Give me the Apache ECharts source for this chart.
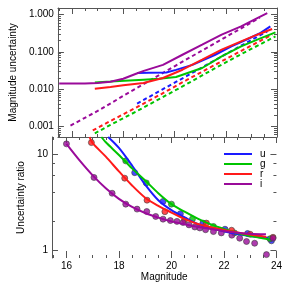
<!DOCTYPE html>
<html><head><meta charset="utf-8">
<script src="https://cdn.jsdelivr.net/npm/echarts@6/dist/echarts.min.js"></script>
<style>html,body{margin:0;padding:0;background:#fff}#c{width:285px;height:292px}</style>
</head><body><div id="c"></div>
<script>
// ---- tick values ----
const magMajorTicks = [16, 18, 20, 22, 24];
const magMinorTicks = [15.5, 16.5, 17, 17.5, 18.5, 19, 19.5, 20.5, 21, 21.5, 22.5, 23, 23.5];
const errMajorTicks = [0.001, 0.01, 0.1, 1];
const errMinorTicks = [0.0006, 0.0007, 0.0008, 0.0009, 0.002, 0.003, 0.004, 0.005, 0.006, 0.007, 0.008, 0.009,
  0.02, 0.03, 0.04, 0.05, 0.06, 0.07, 0.08, 0.09, 0.2, 0.3, 0.4, 0.5, 0.6, 0.7, 0.8, 0.9];
const ratioMajorTicks = [1, 10];
const ratioMinorTicks = [2, 4, 6, 8];
const bands = ['u', 'g', 'r', 'i'];
const bandColors = ['#1a1aff', '#00c400', '#ff1a1a', '#9a0a9a'];

// ---- top panel: total uncertainty (solid) ----
const uTotMag = [18.54, 19.0, 19.68, 20.06, 20.70, 21.59, 22.22, 22.86, 23.36, 23.74];
const uTotErr = [0.027, 0.0275, 0.028, 0.033, 0.045, 0.084, 0.141, 0.222, 0.324, 0.485];
const gTotMag = [16.89, 17.5, 18.79, 19.4, 20.06, 21.08, 21.84, 22.60, 23.23, 23.94];
const gTotErr = [0.0152, 0.016, 0.018, 0.019, 0.0212, 0.037, 0.076, 0.141, 0.214, 0.335];
const rTotMag = [16.89, 17.5, 18.0, 18.79, 19.55, 20.31, 21.08, 21.84, 22.60, 23.23, 23.81];
const rTotErr = [0.0103, 0.0115, 0.0128, 0.0146, 0.020, 0.0333, 0.0618, 0.115, 0.192, 0.29, 0.413];
const iTotMag = [15.5, 16.0, 16.5, 17.0, 17.5, 18.0, 18.5, 18.8, 19.55, 20.31, 21.08, 21.84, 22.6, 23.23, 23.62];
const iTotErr = [0.0142, 0.0142, 0.0143, 0.0146, 0.0158, 0.019, 0.026, 0.031, 0.045, 0.084, 0.156, 0.29, 0.485, 0.81, 1.1];

// ---- top panel: photon-noise uncertainty (dashed) ----
const uPhotMag = [18.54, 19.5, 20.5, 21.5, 22.5, 23.62];
const uPhotErr = [0.0041, 0.0096, 0.023, 0.056, 0.135, 0.356];
const gPhotMag = [16.89, 17.5, 18.5, 19.5, 20.5, 21.5, 22.5, 23.94];
const gPhotErr = [0.00065, 0.0011, 0.0025, 0.0059, 0.014, 0.034, 0.08, 0.261];
const rPhotMag = [16.81, 17.5, 18.5, 19.5, 20.5, 21.5, 22.5, 23.81];
const rPhotErr = [0.00078, 0.0014, 0.0032, 0.0075, 0.018, 0.042, 0.098, 0.29];
const iPhotMag = [15.94, 17.0, 18.0, 19.0, 20.0, 21.0, 22.0, 23.0, 23.33];
const iPhotErr = [0.00105, 0.0026, 0.0066, 0.0165, 0.041, 0.102, 0.25, 0.62, 0.84];

// ---- bottom panel: ratio fits (lines) ----
const uFitMag = [17.59, 18.0, 18.5, 19.0, 19.5, 20.0, 20.5, 21.0, 21.5, 22.0, 22.5, 23.0, 23.7];
const uFitRatio = [15.1, 11.6, 7.6, 4.8, 3.3, 2.6, 2.18, 1.86, 1.68, 1.56, 1.46, 1.39, 1.32];
const gFitMag = [17.33, 17.5, 18.0, 18.5, 19.0, 19.5, 20.0, 20.5, 21.0, 21.5, 22.0, 22.5, 23.0, 23.7];
const gFitRatio = [15.1, 13.3, 9.8, 7.1, 5.3, 3.9, 3.0, 2.5, 2.12, 1.84, 1.65, 1.5, 1.39, 1.29];
const rFitMag = [16.88, 17.0, 17.5, 18.0, 18.5, 19.0, 19.5, 20.0, 20.5, 21.0, 21.5, 22.0, 22.5, 23.0, 23.62];
const rFitRatio = [15.1, 13.0, 9.4, 6.6, 4.7, 3.5, 2.88, 2.45, 2.1, 1.86, 1.72, 1.61, 1.52, 1.44, 1.36];
const iFitMag = [16.0, 16.5, 17.0, 17.5, 18.0, 18.5, 19.0, 19.5, 20.0, 20.5, 21.0, 21.5, 22.0, 22.5, 23.0, 23.6];
const iFitRatio = [12.8, 8.6, 6.0, 4.4, 3.4, 2.8, 2.42, 2.17, 1.98, 1.85, 1.74, 1.65, 1.57, 1.51, 1.47, 1.45];

// ---- bottom panel: measured ratios (dots) ----
const uPtMag = [18.6, 19.68, 20.34, 21.2, 22.04, 22.9, 23.81];
const uPtRatio = [6.4, 3.2, 2.38, 1.9, 1.64, 1.48, 1.24];
const gPtMag = [18.26, 19.04, 20.0, 20.8, 21.6, 22.4, 23.75];
const gPtRatio = [8.5, 5.0, 3.0, 2.1, 1.75, 1.5, 1.3];
const rPtMag = [16.95, 18.22, 19.07, 19.75, 20.5, 21.33, 22.29, 23.0, 23.87];
const rPtRatio = [13.2, 5.6, 3.3, 2.5, 2.05, 1.9, 1.6, 1.45, 1.35];
const iPtMag = [16.0, 17.05, 17.74, 18.26, 18.69, 19.06, 19.40, 19.68, 19.96, 20.21, 20.44, 20.67, 20.89, 21.08,
  21.3, 21.6, 21.9, 22.3, 22.6, 22.86, 23.17, 23.62, 23.87];
const iPtRatio = [12.8, 5.7, 3.9, 3.0, 2.66, 2.51, 2.23, 2.09, 2.02, 1.98, 1.93, 1.82, 1.73, 1.69,
  1.62, 1.55, 1.5, 1.42, 1.32, 1.22, 1.17, 0.89, 1.32];

const zip = (a, b) => a.map((v, k) => [v, b[k]]);
const FONT = 'Liberation Sans';
const AX = '#555';
const xMin = 15.45, xMax = 24;
const errMin = 0.00052, errMax = 1.51;
const ratMin = 0.82, ratMax = 15.1;

function xAx(grid, pos, ticks, len, opts) {
  return Object.assign({
    type: 'value', gridIndex: grid, position: pos, min: xMin, max: xMax,
    splitLine: { show: false },
    axisLine: { show: false, lineStyle: { color: AX, width: 1 } },
    axisTick: { show: true, inside: true, length: len, customValues: ticks, lineStyle: { color: AX } },
    axisLabel: { show: false }
  }, opts || {});
}
function yAx(grid, pos, type, mn, mx, ticks, len, opts) {
  const o = {
    type: type, gridIndex: grid, position: pos, min: mn, max: mx,
    splitLine: { show: false },
    axisLine: { show: false, lineStyle: { color: AX, width: 1 } },
    axisTick: { show: true, inside: true, length: len, customValues: ticks, lineStyle: { color: AX } },
    axisLabel: { show: false }
  };
  if (type === 'log') o.logBase = 10;
  return Object.assign(o, opts || {});
}

const totSets = [[uTotMag, uTotErr], [gTotMag, gTotErr], [rTotMag, rTotErr], [iTotMag, iTotErr]];
const photSets = [[uPhotMag, uPhotErr], [gPhotMag, gPhotErr], [rPhotMag, rPhotErr], [iPhotMag, iPhotErr]];
const fitSets = [[uFitMag, uFitRatio], [gFitMag, gFitRatio], [rFitMag, rFitRatio], [iFitMag, iFitRatio]];
const ptSets = [[uPtMag, uPtRatio], [gPtMag, gPtRatio], [rPtMag, rPtRatio], [iPtMag, iPtRatio]];

const series = [];
bands.forEach((b, k) => {
  series.push({ name: b + ' photon', type: 'line', xAxisIndex: 0, yAxisIndex: 0, data: zip(photSets[k][0], photSets[k][1]),
    showSymbol: false, lineStyle: { color: bandColors[k], width: 2, type: [4, 3] }, itemStyle: { color: bandColors[k] }, z: 2 });
});
bands.forEach((b, k) => {
  series.push({ name: b + ' total', type: 'line', xAxisIndex: 0, yAxisIndex: 0, data: zip(totSets[k][0], totSets[k][1]),
    showSymbol: false, lineStyle: { color: bandColors[k], width: 2 }, itemStyle: { color: bandColors[k] }, z: 3 });
});
bands.forEach((b, k) => {
  series.push({ name: b + ' points', type: 'scatter', xAxisIndex: 4, yAxisIndex: 4, data: zip(ptSets[k][0], ptSets[k][1]),
    symbolSize: 6, itemStyle: { color: bandColors[k], borderColor: '#444', borderWidth: 0.8 }, z: 2 });
});
bands.forEach((b, k) => {
  series.push({ name: b, type: 'line', xAxisIndex: 4, yAxisIndex: 4, data: zip(fitSets[k][0], fitSets[k][1]),
    showSymbol: false, smooth: 0.3, lineStyle: { color: bandColors[k], width: 2 }, itemStyle: { color: bandColors[k] }, z: 3 });
});

const chart = echarts.init(document.getElementById('c'), null, { renderer: 'canvas' });
chart.setOption({
  animation: false,
  textStyle: { fontFamily: FONT },
  grid: [
    { left: 52, top: 8, width: 225, height: 129 },
    { left: 52, top: 137, width: 225, height: 121 }
  ],
  legend: {
    data: bands, orient: 'vertical', left: 224, top: 149, padding: 0,
    itemWidth: 28, itemHeight: 2, itemGap: 0, icon: 'rect',
    textStyle: { fontSize: 10, lineHeight: 9.5, color: '#000', fontFamily: FONT, padding: [0, 0, 0, 3] }
  },
  xAxis: [
    xAx(0, 'bottom', magMajorTicks, 6, { axisLine: { show: true, lineStyle: { color: AX } } }),
    xAx(0, 'bottom', magMinorTicks, 3),
    xAx(0, 'top', magMajorTicks, 6, { axisLine: { show: true, lineStyle: { color: AX } } }),
    xAx(0, 'top', magMinorTicks, 3),
    xAx(1, 'bottom', magMajorTicks, 7, {
      name: 'Magnitude', nameLocation: 'middle', nameGap: 13,
      nameTextStyle: { fontSize: 10, color: '#000', fontFamily: FONT },
      axisLabel: { show: true, customValues: magMajorTicks, fontSize: 10, color: '#000', margin: 3, fontFamily: FONT }
    }),
    xAx(1, 'bottom', magMinorTicks, 3),
    xAx(1, 'top', magMajorTicks, 6),
    xAx(1, 'top', magMinorTicks, 3)
  ],
  yAxis: [
    yAx(0, 'left', 'log', errMin, errMax, errMajorTicks, 6, {
      axisLine: { show: true, lineStyle: { color: AX } },
      name: 'Magnitude uncertainty', nameLocation: 'middle', nameGap: 34,
      nameTextStyle: { fontSize: 10, color: '#000', fontFamily: FONT },
      axisLabel: { show: true, customValues: errMajorTicks, fontSize: 10, color: '#000', margin: 4, fontFamily: FONT,
        formatter: v => Number(v).toFixed(3) }
    }),
    yAx(0, 'left', 'log', errMin, errMax, errMinorTicks, 3),
    yAx(0, 'right', 'log', errMin, errMax, errMajorTicks, 6, { axisLine: { show: true, lineStyle: { color: AX } } }),
    yAx(0, 'right', 'log', errMin, errMax, errMinorTicks, 3),
    yAx(1, 'left', 'log', ratMin, ratMax, ratioMajorTicks, 6, {
      axisLine: { show: true, lineStyle: { color: AX } },
      name: 'Uncertainty ratio', nameLocation: 'middle', nameGap: 22,
      nameTextStyle: { fontSize: 10, color: '#000', fontFamily: FONT },
      axisLabel: { show: true, customValues: ratioMajorTicks, fontSize: 10, color: '#000', margin: 4, fontFamily: FONT,
        formatter: v => String(Math.round(v)) }
    }),
    yAx(1, 'left', 'log', ratMin, ratMax, ratioMinorTicks, 3),
    yAx(1, 'right', 'log', ratMin, ratMax, ratioMajorTicks, 6),
    yAx(1, 'right', 'log', ratMin, ratMax, ratioMinorTicks, 3)
  ],
  series: series
});
</script></body></html>
